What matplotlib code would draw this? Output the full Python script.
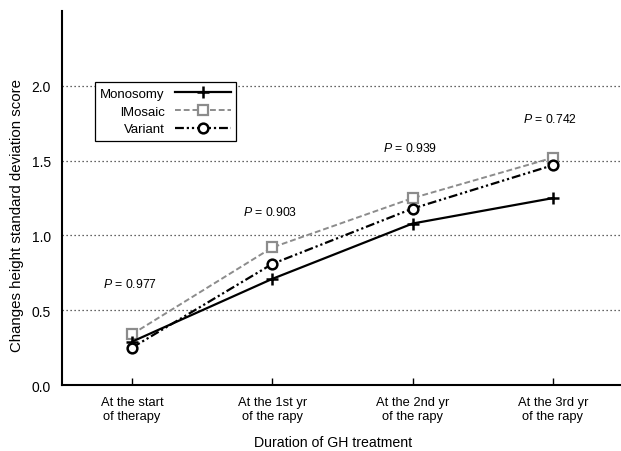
import matplotlib
matplotlib.use("Agg")
import matplotlib.pyplot as plt

plt.rcParams['font.family'] = ['Liberation Sans', 'DejaVu Sans']
plt.rcParams['mathtext.fontset'] = 'custom'
plt.rcParams['mathtext.rm'] = 'Liberation Sans'
plt.rcParams['mathtext.it'] = 'Liberation Sans:italic'

stages = ["At the start\nof therapy", "At the 1st yr\nof the rapy",
          "At the 2nd yr\nof the rapy", "At the 3rd yr\nof the rapy"]
monosomy = [0.29, 0.71, 1.08, 1.25]
mosaic = [0.34, 0.92, 1.25, 1.52]
variant = [0.25, 0.81, 1.18, 1.47]
p_values = ["0.977", "0.903", "0.939", "0.742"]
p_heights = [0.676, 1.16, 1.59, 1.78]

fig = plt.figure(figsize=(6.21, 4.52), dpi=100)
ax = fig.add_axes([0.0998, 0.146, 0.9, 0.827])

x = list(range(len(stages)))
for y in [0.5, 1.0, 1.5, 2.0]:
    ax.axhline(y, color="#333333", lw=0.9, ls=(0, (1, 2.2)), zorder=1)

ax.plot(x, monosomy, color="black", lw=1.6, marker="+", ms=8, mew=1.8,
        label="Monosomy", zorder=3)
ax.plot(x, mosaic, color="#8c8c8c", lw=1.4, ls=(0, (3, 1.5)), marker="s", ms=7,
        mfc="white", mec="#8c8c8c", mew=1.6, label="lMosaic", zorder=2)
ax.plot(x, variant, color="black", lw=1.6, ls=(0, (4, 1.3, 1, 1.3, 1, 1.3)),
        marker="o", ms=7, mfc="white", mew=1.8, label="Variant", zorder=4)

for i, (p, h) in enumerate(zip(p_values, p_heights)):
    ax.text(i - 0.21, h, "$P$ = " + p, fontsize=8.8, ha="left", va="center")

ax.set_xlim(-0.5, 3.485)
ax.set_ylim(0, 2.5)
ax.set_xticks(x)
ax.set_xticklabels(stages, fontsize=9.3, linespacing=1.2)
ax.set_yticks([0.0, 0.5, 1.0, 1.5, 2.0])
ax.set_yticklabels(["0.0", "0.5", "1.0", "1.5", "2.0"], fontsize=10)
ax.tick_params(axis="x", direction="in", length=5, width=1, pad=8)
ax.tick_params(axis="y", length=0, pad=8)
for s in ["top", "right"]:
    ax.spines[s].set_visible(False)
for s in ["left", "bottom"]:
    ax.spines[s].set_linewidth(1.5)

fig.text(333 / 621, 1 - 443 / 452, "Duration of GH treatment", fontsize=10.2,
         ha="center", va="center")
fig.text(17 / 621, 1 - 216 / 452, "Changes height standard deviation score",
         fontsize=10.8, rotation=90, ha="center", va="center")

leg = ax.legend(loc="upper left", bbox_to_anchor=(0.059, 0.810), borderaxespad=0,
                markerfirst=False, fontsize=9.5, frameon=True, fancybox=False,
                edgecolor="black", handlelength=4.2, handletextpad=0.8,
                borderpad=0.4, labelspacing=0.42, framealpha=1)
leg.get_frame().set_linewidth(0.9)
for t in leg.get_texts():
    t.set_ha("right")
leg._legend_box.align = "right"

fig.savefig("out.png", dpi=100)
